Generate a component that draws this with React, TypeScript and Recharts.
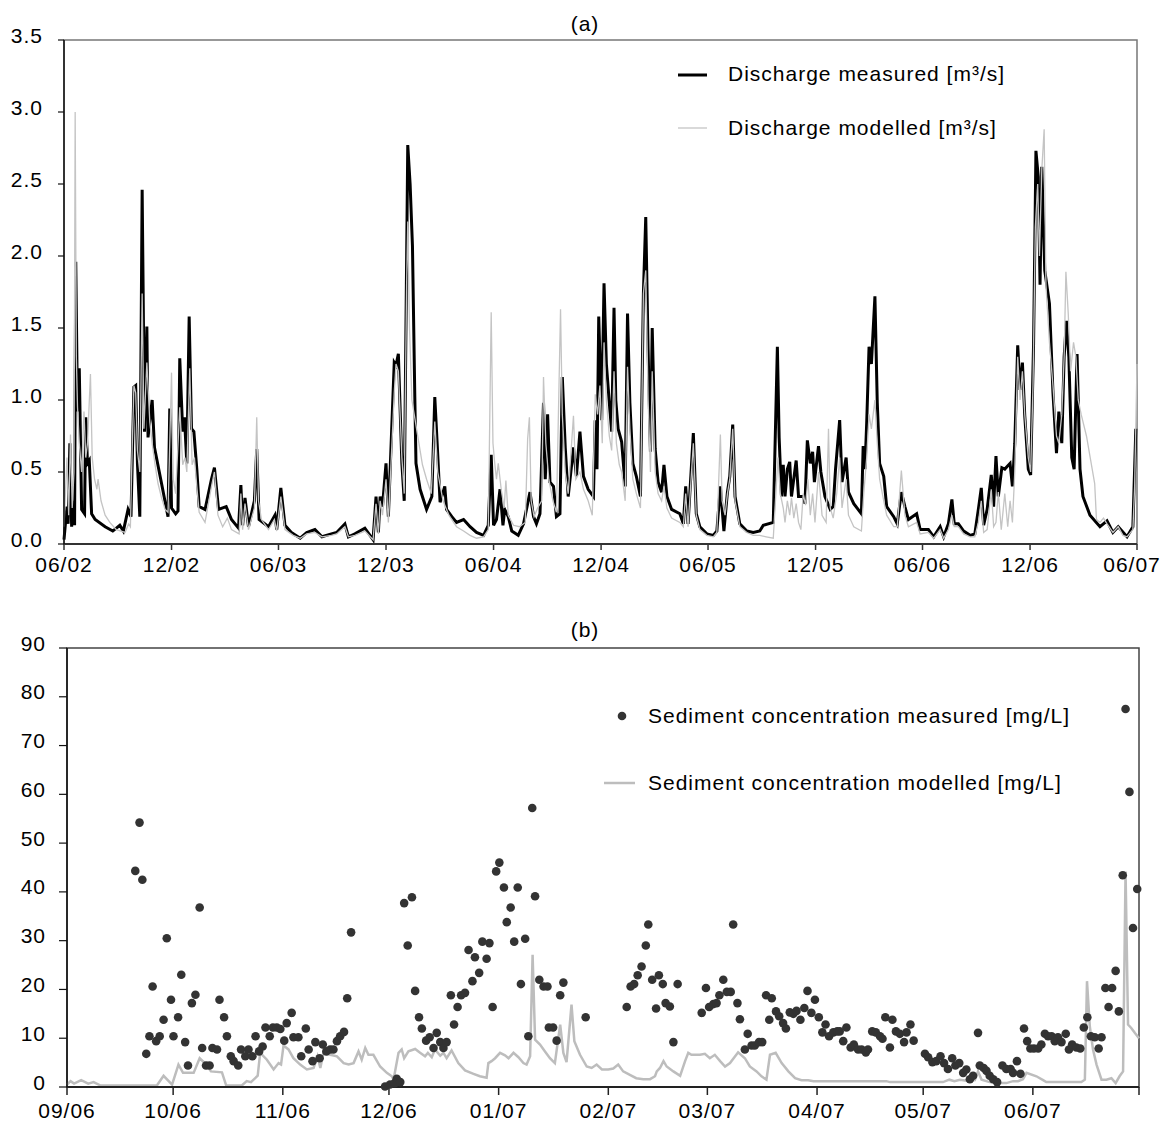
import React from 'react'
import { ComposedChart, LineChart, Line, Scatter, XAxis, YAxis, ReferenceArea } from 'recharts'

// (a) daily discharge, x = days since 01/06/2002
const dischargeMeasured: [number, number][] = [
  [0, 0.03], [5, 0.26], [7, 0.14], [10, 0.7], [13, 0.12], [16, 0.3], [18, 0.13], [20, 1.96], [23, 0.92], [26, 1.22],
  [30, 0.24], [35, 0.21], [37, 0.88], [40, 0.56], [43, 0.58], [47, 0.21], [53, 0.17], [70, 0.12], [83, 0.09], [95, 0.13],
  [101, 0.09], [109, 0.24], [114, 0.19], [119, 1.09], [122, 1.1], [125, 0.56], [129, 0.19], [133, 2.46], [137, 0.78], [141, 1.51],
  [143, 0.74], [150, 1.0], [154, 0.67], [166, 0.42], [177, 0.19], [180, 0.94], [183, 0.25], [190, 0.21], [194, 0.23], [197, 1.29],
  [202, 0.78], [205, 0.88], [209, 0.56], [213, 1.58], [217, 0.8], [221, 0.78], [226, 0.52], [230, 0.26], [240, 0.24], [251, 0.45],
  [256, 0.53], [263, 0.24], [276, 0.26], [285, 0.17], [297, 0.11], [301, 0.41], [304, 0.13], [308, 0.32], [314, 0.12], [324, 0.3],
  [328, 0.66], [332, 0.17], [348, 0.12], [359, 0.2], [362, 0.1], [369, 0.39], [376, 0.13], [387, 0.08], [402, 0.04], [413, 0.08],
  [427, 0.1], [439, 0.05], [455, 0.07], [464, 0.08], [478, 0.14], [484, 0.05], [495, 0.07], [512, 0.11], [526, 0.03], [531, 0.33],
  [535, 0.08], [538, 0.33], [542, 0.26], [548, 0.56], [552, 0.19], [562, 1.26], [565, 1.24], [569, 1.32], [575, 0.56], [579, 0.3],
  [585, 2.77], [589, 2.5], [593, 2.07], [597, 1.02], [599, 0.56], [606, 0.38], [617, 0.24], [626, 0.33], [631, 1.02], [635, 0.7],
  [640, 0.29], [648, 0.4], [651, 0.24], [660, 0.19], [668, 0.15], [680, 0.17], [691, 0.12], [702, 0.08], [714, 0.06], [722, 0.13],
  [727, 0.62], [731, 0.13], [736, 0.17], [742, 0.38], [747, 0.13], [750, 0.24], [756, 0.19], [762, 0.09], [773, 0.06], [782, 0.14],
  [793, 0.36], [799, 0.19], [804, 0.14], [810, 0.21], [816, 0.98], [819, 0.45], [823, 0.9], [827, 0.43], [833, 0.4], [838, 0.19],
  [844, 0.21], [848, 1.16], [853, 0.67], [858, 0.33], [867, 0.67], [872, 0.47], [878, 0.78], [884, 0.47], [892, 0.38], [901, 0.33],
  [904, 0.86], [907, 0.52], [910, 1.58], [915, 0.86], [919, 1.81], [923, 1.25], [928, 0.98], [932, 0.78], [936, 1.64], [939, 1.0],
  [943, 0.8], [949, 0.71], [955, 0.4], [959, 1.6], [963, 0.98], [968, 0.56], [974, 0.47], [981, 0.33], [986, 1.74], [990, 2.27],
  [994, 1.35], [998, 0.64], [1001, 1.5], [1006, 0.66], [1011, 0.43], [1017, 0.36], [1021, 0.55], [1026, 0.33], [1034, 0.24], [1048, 0.21],
  [1054, 0.14], [1058, 0.4], [1062, 0.14], [1071, 0.77], [1076, 0.21], [1082, 0.12], [1094, 0.07], [1105, 0.06], [1111, 0.09], [1117, 0.4],
  [1123, 0.09], [1129, 0.36], [1133, 0.47], [1138, 0.83], [1142, 0.33], [1150, 0.14], [1162, 0.09], [1173, 0.08], [1184, 0.09], [1190, 0.13],
  [1207, 0.15], [1214, 1.37], [1217, 0.74], [1221, 0.33], [1224, 0.55], [1227, 0.33], [1231, 0.52], [1235, 0.57], [1238, 0.33], [1246, 0.58],
  [1250, 0.33], [1258, 0.33], [1261, 0.28], [1265, 0.72], [1270, 0.56], [1274, 0.64], [1277, 0.43], [1284, 0.68], [1288, 0.5], [1295, 0.33],
  [1304, 0.24], [1309, 0.26], [1313, 0.52], [1320, 0.86], [1324, 0.43], [1331, 0.6], [1335, 0.36], [1344, 0.28], [1357, 0.21], [1360, 0.68],
  [1363, 0.52], [1366, 0.84], [1370, 1.37], [1374, 1.25], [1380, 1.72], [1384, 0.98], [1388, 0.56], [1395, 0.47], [1400, 0.26], [1412, 0.19],
  [1418, 0.14], [1425, 0.36], [1431, 0.26], [1437, 0.17], [1451, 0.21], [1457, 0.1], [1471, 0.1], [1480, 0.05], [1491, 0.12], [1497, 0.05],
  [1505, 0.14], [1511, 0.31], [1515, 0.14], [1522, 0.14], [1531, 0.09], [1542, 0.06], [1550, 0.07], [1556, 0.24], [1561, 0.39], [1565, 0.13],
  [1571, 0.24], [1578, 0.48], [1582, 0.26], [1586, 0.61], [1590, 0.33], [1596, 0.53], [1601, 0.52], [1610, 0.56], [1614, 0.4], [1618, 0.7],
  [1623, 1.38], [1627, 1.07], [1631, 1.26], [1635, 0.89], [1641, 0.52], [1645, 0.48], [1650, 1.39], [1654, 2.73], [1658, 2.55], [1661, 1.8],
  [1664, 2.62], [1669, 1.9], [1677, 1.67], [1683, 1.05], [1689, 0.63], [1693, 0.92], [1698, 0.7], [1702, 1.3], [1706, 1.55], [1710, 1.3],
  [1715, 0.6], [1719, 0.52], [1724, 1.32], [1729, 0.52], [1734, 0.33], [1746, 0.2], [1763, 0.12], [1775, 0.16], [1785, 0.08], [1794, 0.12],
  [1809, 0.05], [1819, 0.12], [1824, 0.8],
]

const dischargeModelled: [number, number][] = [
  [0, 0.12], [5, 0.6], [8, 0.2], [11, 0.76], [14, 0.25], [17, 0.5], [19, 3.0], [21, 1.3], [23, 0.95], [26, 0.7],
  [30, 0.5], [34, 0.92], [37, 0.6], [40, 0.7], [45, 1.18], [48, 0.6], [52, 0.45], [56, 0.38], [58, 0.45], [63, 0.3],
  [70, 0.2], [78, 0.15], [89, 0.1], [104, 0.08], [110, 0.14], [113, 0.12], [116, 0.66], [119, 1.1], [122, 1.05], [125, 0.65],
  [129, 0.5], [133, 1.74], [136, 0.8], [141, 1.26], [146, 0.85], [150, 0.7], [155, 0.55], [160, 0.42], [166, 0.32], [172, 0.24],
  [177, 0.22], [183, 1.19], [186, 0.45], [190, 0.35], [197, 0.95], [202, 0.55], [206, 0.6], [209, 0.5], [214, 1.22], [218, 0.55],
  [222, 0.6], [226, 0.4], [230, 0.22], [240, 0.15], [251, 0.4], [256, 0.5], [262, 0.2], [270, 0.12], [278, 0.18], [285, 0.1],
  [298, 0.07], [301, 0.35], [304, 0.1], [308, 0.28], [314, 0.1], [324, 0.25], [328, 0.88], [331, 0.3], [336, 0.17], [348, 0.1],
  [358, 0.17], [362, 0.09], [369, 0.33], [376, 0.1], [390, 0.06], [402, 0.04], [413, 0.07], [427, 0.08], [439, 0.05], [455, 0.06],
  [464, 0.07], [478, 0.12], [484, 0.05], [495, 0.06], [512, 0.09], [526, 0.03], [531, 0.28], [535, 0.07], [538, 0.3], [542, 0.2],
  [548, 0.45], [552, 0.15], [562, 1.05], [565, 1.25], [569, 1.2], [575, 0.6], [579, 0.35], [583, 1.79], [585, 2.24], [588, 1.5],
  [592, 1.0], [600, 0.8], [610, 0.55], [617, 0.45], [625, 0.35], [631, 0.85], [636, 0.5], [645, 0.3], [655, 0.2], [668, 0.12],
  [680, 0.09], [691, 0.06], [702, 0.04], [714, 0.05], [722, 0.1], [727, 1.61], [730, 0.7], [733, 0.56], [736, 0.45], [739, 0.56],
  [744, 0.38], [749, 0.25], [752, 0.44], [756, 0.2], [765, 0.13], [775, 0.12], [785, 0.15], [789, 0.73], [792, 0.88], [795, 0.3],
  [800, 0.19], [806, 0.25], [813, 0.3], [816, 1.16], [820, 0.7], [825, 0.45], [832, 0.3], [838, 0.22], [845, 1.63], [848, 0.9],
  [853, 0.5], [858, 0.35], [867, 0.89], [871, 0.45], [878, 0.5], [884, 0.38], [892, 0.3], [899, 0.2], [904, 1.04], [908, 0.9],
  [912, 1.1], [916, 0.7], [919, 1.4], [923, 1.0], [928, 0.75], [932, 0.65], [936, 1.2], [940, 0.7], [945, 0.55], [949, 0.5],
  [955, 0.3], [959, 1.23], [963, 0.8], [968, 0.45], [974, 0.35], [981, 0.25], [986, 1.74], [990, 1.9], [994, 1.0], [998, 0.5],
  [1001, 1.2], [1006, 0.5], [1011, 0.35], [1017, 0.3], [1021, 0.4], [1026, 0.25], [1034, 0.18], [1048, 0.15], [1054, 0.12], [1058, 0.35],
  [1062, 0.12], [1071, 0.7], [1076, 0.2], [1082, 0.1], [1094, 0.06], [1105, 0.05], [1111, 0.08], [1117, 0.76], [1120, 0.3], [1125, 0.2],
  [1129, 0.35], [1133, 0.45], [1138, 0.8], [1142, 0.3], [1150, 0.12], [1162, 0.08], [1173, 0.06], [1184, 0.06], [1195, 0.05], [1207, 0.04],
  [1215, 0.6], [1219, 0.35], [1224, 0.25], [1227, 0.15], [1231, 0.3], [1235, 0.2], [1238, 0.32], [1242, 0.18], [1246, 0.28], [1250, 0.15],
  [1254, 0.1], [1258, 0.35], [1262, 0.27], [1266, 0.45], [1270, 0.2], [1274, 0.35], [1278, 0.15], [1284, 0.5], [1290, 0.2], [1297, 0.15],
  [1301, 0.8], [1304, 0.25], [1309, 0.18], [1315, 0.35], [1320, 0.6], [1324, 0.25], [1331, 0.45], [1335, 0.2], [1344, 0.12], [1357, 0.09],
  [1361, 0.35], [1366, 0.6], [1370, 0.9], [1374, 0.8], [1380, 1.0], [1384, 0.7], [1388, 0.45], [1395, 0.3], [1400, 0.2], [1412, 0.12],
  [1418, 0.12], [1425, 0.51], [1431, 0.2], [1437, 0.12], [1451, 0.15], [1457, 0.07], [1471, 0.08], [1480, 0.04], [1491, 0.1], [1497, 0.04],
  [1505, 0.1], [1511, 0.2], [1515, 0.12], [1522, 0.12], [1531, 0.07], [1542, 0.05], [1550, 0.05], [1556, 0.15], [1561, 0.3], [1565, 0.08],
  [1571, 0.1], [1578, 0.38], [1582, 0.12], [1586, 0.15], [1590, 0.36], [1595, 0.1], [1601, 0.35], [1606, 0.12], [1610, 0.3], [1614, 0.15],
  [1618, 0.5], [1623, 1.3], [1627, 1.0], [1631, 1.2], [1635, 0.9], [1641, 0.6], [1645, 0.5], [1649, 1.1], [1653, 2.2], [1657, 2.5],
  [1660, 2.0], [1664, 2.6], [1668, 2.88], [1671, 1.8], [1677, 1.4], [1683, 1.1], [1689, 0.75], [1693, 0.7], [1698, 0.9], [1702, 1.3],
  [1705, 1.89], [1709, 1.6], [1713, 1.2], [1718, 1.4], [1722, 1.3], [1726, 1.0], [1731, 0.9], [1740, 0.75], [1754, 0.42], [1757, 0.17],
  [1763, 0.15], [1769, 0.18], [1775, 0.14], [1785, 0.08], [1794, 0.12], [1802, 0.06], [1809, 0.05], [1819, 0.1], [1822, 0.4], [1826, 1.25],
]

const dischargeTicks = [0, 183, 365, 548, 731, 914, 1096, 1279, 1461, 1644, 1826]
const dischargeTickLabels = ['06/02', '12/02', '06/03', '12/03', '06/04', '12/04', '06/05', '12/05', '06/06', '12/06', '06/07']
const dischargeYTicks = [0, 0.5, 1, 1.5, 2, 2.5, 3, 3.5]

// (b) sediment concentration, x = days since 01/09/2006
const sedimentMeasured: [number, number][] = [
  [19.3, 44.3], [20.5, 54.2], [21.3, 42.5], [22.4, 6.8], [23.3, 10.4], [24.2, 20.6], [25.2, 9.4], [26.2, 10.4], [27.3, 13.8], [28.2, 30.5],
  [29.4, 17.9], [30.1, 10.4], [31.4, 14.3], [32.3, 23.0], [33.4, 9.2], [34.2, 4.4], [35.3, 17.2], [36.3, 18.9], [37.5, 36.8], [38.2, 8.0],
  [39.3, 4.4], [40.3, 4.4], [41.1, 8.0], [42.4, 7.7], [43.1, 17.9], [44.4, 14.3], [45.2, 10.4], [46.3, 6.3], [47.1, 5.3], [48.4, 4.4],
  [49.2, 7.7], [50.4, 6.3], [51.3, 7.7], [52.4, 6.3], [53.3, 10.4], [54.3, 7.3], [55.3, 8.3], [56.1, 12.2], [57.3, 10.4], [58.2, 12.2],
  [59.3, 12.2], [60.3, 11.9], [61.4, 9.5], [62.1, 13.1], [63.5, 15.2], [64.0, 10.2], [65.4, 10.2], [66.2, 6.3], [67.5, 12.0], [68.3, 7.7],
  [69.4, 5.3], [70.2, 9.2], [71.4, 5.9], [72.3, 8.7], [73.3, 7.3], [74.4, 7.7], [75.3, 7.7], [76.3, 9.4], [77.2, 10.4], [78.3, 11.3],
  [79.2, 18.2], [80.3, 31.7], [89.9, 0.1], [91.3, 0.5], [92.6, 0.8], [93.2, 1.7], [94.2, 1.0], [95.3, 37.7], [96.3, 29.0], [97.5, 38.9],
  [98.4, 19.7], [99.5, 14.3], [100.3, 12.0], [101.5, 9.5], [102.5, 10.2], [103.6, 8.0], [104.5, 11.1], [105.5, 9.2], [106.4, 8.0], [107.3, 9.2],
  [108.5, 18.8], [109.4, 12.8], [110.4, 16.4], [111.4, 18.8], [112.5, 19.3], [113.5, 28.1], [114.6, 21.7], [115.3, 26.6], [116.5, 23.4], [117.4, 29.8],
  [118.6, 26.3], [119.4, 29.5], [120.3, 16.4], [121.3, 44.2], [122.2, 46.0], [123.5, 40.9], [124.3, 33.8], [125.4, 36.8], [126.4, 29.8], [127.4, 40.9],
  [128.3, 21.1], [129.5, 30.4], [130.4, 10.4], [131.5, 57.2], [132.3, 39.1], [133.5, 22.0], [134.7, 20.6], [135.8, 20.6], [136.2, 12.2], [137.4, 12.2],
  [138.4, 9.5], [139.4, 18.8], [140.3, 21.4], [146.6, 14.3], [158.2, 16.4], [159.3, 20.6], [160.3, 21.1], [161.3, 22.9], [162.4, 24.7], [163.6, 29.0],
  [164.3, 33.3], [165.4, 22.0], [166.5, 16.1], [167.3, 22.9], [168.4, 21.1], [169.2, 17.2], [170.4, 16.5], [171.4, 9.2], [172.6, 21.1], [179.4, 15.2],
  [180.6, 20.3], [181.5, 16.4], [182.7, 17.0], [183.6, 17.2], [184.4, 18.8], [185.5, 22.0], [186.5, 19.5], [187.6, 19.5], [188.3, 33.3], [189.5, 17.2],
  [190.2, 13.9], [191.6, 7.7], [192.4, 10.9], [193.5, 8.5], [194.4, 8.5], [195.6, 9.2], [196.5, 9.2], [197.6, 18.8], [198.5, 13.8], [199.2, 18.2],
  [200.4, 15.5], [201.3, 14.5], [202.4, 13.1], [203.2, 12.0], [204.3, 15.3], [205.3, 15.0], [206.2, 15.6], [207.3, 13.8], [208.4, 16.2], [209.3, 19.7],
  [210.4, 15.2], [211.4, 17.9], [212.5, 14.3], [213.5, 11.2], [214.4, 12.8], [215.4, 10.4], [216.6, 11.2], [217.7, 11.4], [218.4, 11.4], [219.4, 9.4],
  [220.3, 12.2], [221.5, 8.1], [222.4, 8.7], [223.6, 7.7], [224.6, 7.7], [225.8, 7.1], [226.4, 7.7], [227.6, 11.4], [228.6, 11.2], [229.8, 10.4],
  [230.5, 9.9], [231.3, 14.3], [232.6, 8.1], [233.3, 13.8], [234.3, 11.4], [235.4, 10.9], [236.6, 9.2], [237.3, 11.2], [238.4, 12.8], [239.3, 9.5],
  [242.5, 6.8], [243.4, 6.1], [244.6, 5.1], [245.7, 5.3], [246.9, 6.3], [247.9, 4.9], [249.0, 3.7], [250.2, 5.9], [251.1, 4.4], [252.2, 4.9],
  [253.3, 2.9], [254.2, 3.6], [255.2, 1.6], [256.1, 2.3], [257.5, 11.1], [258.0, 4.4], [259.1, 3.9], [259.9, 3.3], [260.8, 2.3], [261.8, 1.6],
  [262.9, 1.0], [264.4, 4.4], [265.5, 3.7], [266.7, 3.7], [267.4, 2.9], [268.5, 5.3], [269.5, 2.7], [270.5, 12.0], [271.4, 9.4], [272.3, 7.9],
  [273.3, 7.9], [274.5, 7.9], [275.4, 8.7], [276.4, 10.9], [277.3, 10.4], [278.3, 10.4], [279.2, 9.4], [280.1, 10.2], [281.1, 9.2], [282.3, 10.9],
  [283.2, 7.7], [284.1, 8.7], [285.3, 8.1], [286.4, 7.9], [287.4, 12.2], [288.4, 14.3], [289.4, 10.4], [290.5, 10.2], [291.6, 7.9], [292.4, 10.2],
  [293.5, 20.3], [294.4, 16.4], [295.4, 20.3], [296.4, 23.8], [297.3, 15.5], [298.4, 43.4], [299.2, 77.5], [300.3, 60.5], [301.3, 32.6], [302.5, 40.6],
]

const sedimentModelled: [number, number][] = [
  [0, 0.5], [1, 1.2], [2, 0.7], [4, 1.4], [6, 0.7], [7.5, 1.0], [9.5, 0.3], [25.4, 0.3], [27.3, 2.3], [29.7, 0.5],
  [31.5, 4.6], [32.8, 2.9], [35.8, 2.9], [37.5, 5.9], [39.1, 4.8], [40.7, 3.2], [43.8, 3.0], [45, 0.3], [49.4, 0.3], [50.8, 1.2],
  [52, 1.0], [53.9, 2.3], [54.6, 7.0], [56.5, 5.6], [58.4, 3.6], [59.8, 4.9], [60.5, 4.6], [61.2, 8.5], [62.6, 7.7], [64, 5.9],
  [65.9, 4.6], [67.8, 3.6], [69.7, 3.9], [70.8, 6.3], [71.6, 3.9], [72.5, 7.0], [74.4, 6.6], [76.3, 6.3], [78.2, 4.9], [79.6, 4.6],
  [81, 4.9], [82.4, 7.3], [83.3, 5.6], [84.3, 8.0], [85.2, 6.6], [86.6, 6.6], [88.5, 4.2], [90.4, 2.9], [91.8, 2.2], [92.3, 1.5],
  [93.7, 7.0], [94.6, 7.7], [95.3, 5.9], [96.5, 7.3], [98.4, 7.8], [99.8, 7.0], [101.2, 6.3], [102, 7.0], [103.1, 6.1], [104, 7.7],
  [105.5, 6.4], [106.4, 7.0], [107.3, 5.9], [108.7, 7.5], [110.6, 4.9], [112.5, 3.4], [114.9, 2.7], [116.7, 2.2], [118.6, 1.9], [119.1, 4.9],
  [120, 5.3], [121, 5.9], [122.4, 7.0], [123.8, 6.5], [124.8, 5.9], [126.2, 7.0], [127.6, 6.1], [129, 4.9], [129.9, 4.6], [130.9, 6.3],
  [131.6, 27.1], [132.3, 9.7], [133.7, 8.7], [135.1, 7.3], [136.5, 5.9], [137.9, 4.9], [139.4, 12.8], [140.3, 7.0], [141.2, 5.1], [142.6, 16.9],
  [143.4, 9.4], [145, 6.6], [146.9, 4.2], [148.3, 3.9], [149.7, 4.6], [151.2, 3.6], [153, 3.6], [154.4, 3.8], [155.8, 4.6], [157.2, 3.2],
  [159.1, 2.5], [160.9, 1.8], [162.9, 1.6], [164.8, 1.6], [166.2, 2.2], [166.7, 3.2], [167.6, 3.9], [168.6, 5.3], [169.5, 4.2], [171.4, 3.2],
  [173.3, 2.3], [174.7, 5.3], [175.6, 7.0], [176.5, 6.6], [178.9, 6.6], [180.3, 6.8], [181.7, 5.9], [183.1, 6.6], [184.6, 5.3], [186, 4.2],
  [187.4, 4.9], [189.7, 7.1], [191.6, 5.9], [193, 4.2], [194.9, 3.2], [196.3, 2.2], [197.7, 1.5], [198.7, 6.6], [200.3, 7.0], [202, 4.9],
  [203.9, 3.2], [205.8, 1.8], [207.6, 1.4], [209.5, 1.4], [211, 1.2], [231.6, 1.2], [232.6, 1.0], [247.6, 1.0], [249.4, 1.5], [250.8, 1.2],
  [252.4, 1.5], [254.3, 1.3], [256.6, 1.4], [257.5, 3.2], [258.5, 1.5], [260.8, 1.0], [263.6, 0.8], [265.5, 0.8], [267.4, 1.2], [268.8, 1.2],
  [270.2, 1.6], [271.2, 2.9], [274, 2.2], [275.9, 1.4], [276.8, 1.0], [286.7, 1.0], [287.7, 1.5], [288.3, 21.7], [289.1, 12.4], [290, 7.7],
  [291, 4.6], [292.4, 1.5], [293.8, 1.5], [295.2, 1.8], [296.4, 0.8], [297.5, 2.2], [298.5, 3.2], [299.2, 44.2], [299.9, 12.8], [300.8, 12.1],
  [301.8, 11.1], [303, 10.0],
]

const sedimentTicks = [0, 30, 61, 91, 122, 153, 181, 212, 242, 273, 303]
const sedimentTickLabels = ['09/06', '10/06', '11/06', '12/06', '01/07', '02/07', '03/07', '04/07', '05/07', '06/07', '']
const sedimentYTicks = [0, 10, 20, 30, 40, 50, 60, 70, 80, 90]

const font = '"Liberation Sans", Arial, Helvetica, sans-serif'
const textStyle = { fontFamily: font, fontSize: 21, letterSpacing: 1 }

const toRows = (pairs: [number, number][]) => pairs.map(([day, v]) => ({ day, v }))

function XTick(props: any) {
  const { x, y, payload, labels, ticks } = props
  const i = ticks.indexOf(payload.value)
  const label = labels[i] ?? ''
  // keep the last label inside the picture
  const shift = i === ticks.length - 1 ? -5 : 0
  return (
    <text x={x + shift} y={y} dy={15} textAnchor="middle" fill="#000" style={textStyle}>
      {label}
    </text>
  )
}

function YTick(props: any) {
  const { x, y, payload, digits } = props
  return (
    <text x={x} y={y - 5} textAnchor="end" dominantBaseline="central" fill="#000" style={textStyle}>
      {payload.value.toFixed(digits)}
    </text>
  )
}

function LegendItem({ left, top, icon, label }: { left: number; top: number; icon: React.ReactNode; label: string }) {
  return (
    <div style={{ position: 'absolute', left, top, display: 'flex', alignItems: 'center', whiteSpace: 'nowrap', ...textStyle, lineHeight: '24px' }}>
      {icon}
      <span>{label}</span>
    </div>
  )
}

export default function App() {
  const measuredRows = toRows(dischargeMeasured)
  const modelledRows = toRows(dischargeModelled)
  const sedSampleRows = toRows(sedimentMeasured)
  const sedModelRows = toRows(sedimentModelled)

  return (
    <div style={{ position: 'absolute', left: 0, top: 0, width: 1162, height: 1130, background: '#fff' }}>
      <div style={{ position: 'absolute', left: 0, top: 0 }}>
        <LineChart width={1162} height={590} margin={{ top: 40, right: 25, bottom: 16, left: 0 }}>
          <ReferenceArea x1={0} x2={1826} y1={0} y2={3.5} fill="none" stroke="#777" strokeWidth={1.5} />
          <XAxis
            type="number"
            dataKey="day"
            domain={[0, 1826]}
            ticks={dischargeTicks}
            interval={0}
            height={30}
            tickSize={6}
            tickMargin={7}
            axisLine={{ stroke: '#333', strokeWidth: 2 }}
            tickLine={{ stroke: '#333', strokeWidth: 1.5 }}
            tick={(p: any) => <XTick {...p} labels={dischargeTickLabels} ticks={dischargeTicks} />}
          />
          <YAxis
            type="number"
            domain={[0, 3.5]}
            ticks={dischargeYTicks}
            interval={0}
            width={64}
            tickSize={6}
            tickMargin={15}
            axisLine={{ stroke: '#111', strokeWidth: 1.5 }}
            tickLine={{ stroke: '#111', strokeWidth: 1.2 }}
            tick={(p: any) => <YTick {...p} digits={1} />}
          />
          <Line data={measuredRows} dataKey="v" type="linear" stroke="#000" strokeWidth={3} dot={false} isAnimationActive={false} />
          <Line data={modelledRows} dataKey="v" type="linear" stroke="#c4c4c4" strokeWidth={1.3} dot={false} isAnimationActive={false} />
        </LineChart>
      </div>

      <div style={{ position: 'absolute', left: 0, top: 12, width: 1170, textAlign: 'center', ...textStyle }}>(a)</div>
      <LegendItem
        left={676}
        top={62}
        label="Discharge measured [m³/s]"
        icon={<svg width={52} height={12}><line x1={2} y1={7} x2={31} y2={7} stroke="#000" strokeWidth={3} /></svg>}
      />
      <LegendItem
        left={676}
        top={116}
        label="Discharge modelled [m³/s]"
        icon={<svg width={52} height={12}><line x1={2} y1={6} x2={31} y2={6} stroke="#c4c4c4" strokeWidth={1.3} /></svg>}
      />

      <div style={{ position: 'absolute', left: 0, top: 600 }}>
        <ComposedChart width={1162} height={530} margin={{ top: 48, right: 23, bottom: 13, left: 0 }}>
          <ReferenceArea x1={0} x2={303} y1={0} y2={90} fill="none" stroke="#444" strokeWidth={1.5} />
          <XAxis
            type="number"
            dataKey="day"
            domain={[0, 303]}
            ticks={sedimentTicks}
            interval={0}
            height={30}
            tickSize={8}
            tickMargin={8}
            axisLine={{ stroke: '#222', strokeWidth: 2 }}
            tickLine={{ stroke: '#222', strokeWidth: 1.5 }}
            tick={(p: any) => <XTick {...p} labels={sedimentTickLabels} ticks={sedimentTicks} />}
          />
          <YAxis
            type="number"
            domain={[0, 90]}
            ticks={sedimentYTicks}
            interval={0}
            width={67}
            tickSize={8}
            tickMargin={13}
            axisLine={{ stroke: '#111', strokeWidth: 1.5 }}
            tickLine={{ stroke: '#111', strokeWidth: 1.2 }}
            tick={(p: any) => <YTick {...p} digits={0} />}
          />
          <Line data={sedModelRows} dataKey="v" type="linear" stroke="#bdbdbd" strokeWidth={2.5} dot={false} isAnimationActive={false} />
          <Scatter
            data={sedSampleRows}
            dataKey="v"
            isAnimationActive={false}
            shape={(p: any) => <circle cx={p.cx} cy={p.cy} r={4.3} fill="#333" />}
          />
        </ComposedChart>
      </div>

      <div style={{ position: 'absolute', left: 0, top: 618, width: 1170, textAlign: 'center', ...textStyle }}>(b)</div>
      <LegendItem
        left={596}
        top={704}
        label="Sediment concentration measured [mg/L]"
        icon={<svg width={52} height={12}><circle cx={26} cy={6} r={4.3} fill="#333" /></svg>}
      />
      <LegendItem
        left={596}
        top={771}
        label="Sediment concentration modelled [mg/L]"
        icon={<svg width={52} height={12}><line x1={8} y1={6} x2={39} y2={6} stroke="#bdbdbd" strokeWidth={2.5} /></svg>}
      />
    </div>
  )
}
